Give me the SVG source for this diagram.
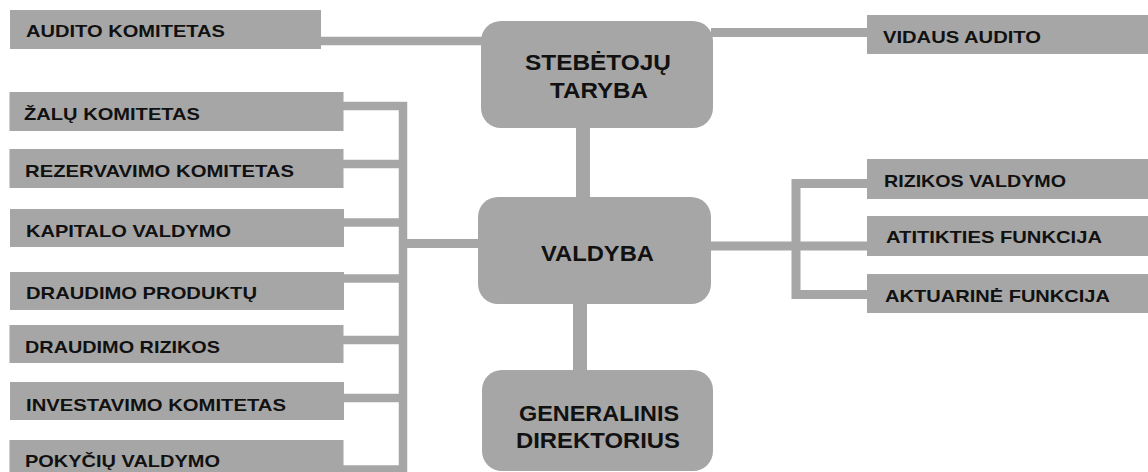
<svg xmlns="http://www.w3.org/2000/svg" width="1148" height="472" viewBox="0 0 1148 472">
<style>
.box{fill:#a6a6a6;}
.t{font-family:"Liberation Sans",Arial,sans-serif;font-weight:bold;font-size:17px;fill:#111;}
.c{font-family:"Liberation Sans",Arial,sans-serif;font-weight:bold;font-size:22.5px;fill:#111;text-anchor:middle;}
.ln{stroke:#a6a6a6;fill:none;stroke-linejoin:miter;stroke-linecap:butt;}
</style>
<rect width="1148" height="472" fill="#fff"/>
<g id="connectors">
<path class="ln" stroke-width="8.5" d="M321 41H483"/>
<path class="ln" stroke-width="9" d="M711 32.5H869"/>
<path class="ln" stroke-width="14" d="M583 126V199"/>
<path class="ln" stroke-width="14" d="M580 302V372"/>
<path class="ln" stroke-width="8.5" d="M342 106H403V472"/>
<path class="ln" stroke-width="8.5" d="M342 164H403M342 222.5H403M342 278.5H403M342 340H403M342 398H403M342 469.5H403"/>
<path class="ln" stroke-width="9" d="M403 243.5H480"/>
<path class="ln" stroke-width="9" d="M709 246H869"/>
<path class="ln" stroke-width="9" d="M869 183.5H796V294.5H869"/>
</g>
<g id="audito-komitetas"><rect class="box" x="10" y="10" width="311" height="39"/><text class="t" x="26" y="37.3" textLength="199" lengthAdjust="spacingAndGlyphs">AUDITO KOMITETAS</text></g>
<g id="zalu-komitetas"><rect class="box" x="9.5" y="92" width="334" height="39"/><text class="t" x="24" y="119.5" textLength="176" lengthAdjust="spacingAndGlyphs">ŽALŲ KOMITETAS</text></g>
<g id="rezervavimo-komitetas"><rect class="box" x="9.5" y="149" width="334" height="39"/><text class="t" x="25" y="176.7" textLength="269" lengthAdjust="spacingAndGlyphs">REZERVAVIMO KOMITETAS</text></g>
<g id="kapitalo-valdymo"><rect class="box" x="10" y="209" width="334" height="38"/><text class="t" x="26" y="236.7" textLength="205" lengthAdjust="spacingAndGlyphs">KAPITALO VALDYMO</text></g>
<g id="draudimo-produktu"><rect class="box" x="10" y="272" width="334" height="38"/><text class="t" x="26" y="299.3" textLength="231" lengthAdjust="spacingAndGlyphs">DRAUDIMO PRODUKTŲ</text></g>
<g id="draudimo-rizikos"><rect class="box" x="9.5" y="325" width="334" height="38"/><text class="t" x="25" y="353.3" textLength="195" lengthAdjust="spacingAndGlyphs">DRAUDIMO RIZIKOS</text></g>
<g id="investavimo-komitetas"><rect class="box" x="10" y="382" width="334" height="38"/><text class="t" x="26" y="410.7" textLength="260" lengthAdjust="spacingAndGlyphs">INVESTAVIMO KOMITETAS</text></g>
<g id="pokyciu-valdymo"><rect class="box" x="9.5" y="440" width="334" height="40"/><text class="t" x="25" y="466.5" textLength="195" lengthAdjust="spacingAndGlyphs">POKYČIŲ VALDYMO</text></g>
<g id="stebetoju-taryba"><rect class="box" x="481" y="21" width="232" height="107" rx="20"/><text class="c" x="598" y="70" textLength="146" lengthAdjust="spacingAndGlyphs">STEBĖTOJŲ</text><text class="c" x="599" y="98.3" textLength="98" lengthAdjust="spacingAndGlyphs">TARYBA</text></g>
<g id="valdyba"><rect class="box" x="478" y="197" width="233" height="107" rx="20"/><text class="c" x="597.5" y="260.7" textLength="113" lengthAdjust="spacingAndGlyphs">VALDYBA</text></g>
<g id="generalinis-direktorius"><rect class="box" x="482" y="370" width="231" height="101" rx="20"/><text class="c" x="599" y="420.7" textLength="160" lengthAdjust="spacingAndGlyphs">GENERALINIS</text><text class="c" x="598" y="448.3" textLength="164" lengthAdjust="spacingAndGlyphs">DIREKTORIUS</text></g>
<g id="vidaus-audito"><rect class="box" x="867" y="15" width="281" height="39"/><text class="t" x="883" y="43" textLength="158" lengthAdjust="spacingAndGlyphs">VIDAUS AUDITO</text></g>
<g id="rizikos-valdymo"><rect class="box" x="867" y="159" width="281" height="40"/><text class="t" x="884" y="187" textLength="182" lengthAdjust="spacingAndGlyphs">RIZIKOS VALDYMO</text></g>
<g id="atitikties-funkcija"><rect class="box" x="867" y="216" width="281" height="40"/><text class="t" x="886" y="243.3" textLength="216" lengthAdjust="spacingAndGlyphs">ATITIKTIES FUNKCIJA</text></g>
<g id="aktuarine-funkcija"><rect class="box" x="867" y="274" width="281" height="39"/><text class="t" x="885" y="301.7" textLength="225" lengthAdjust="spacingAndGlyphs">AKTUARINĖ FUNKCIJA</text></g>
</svg>
